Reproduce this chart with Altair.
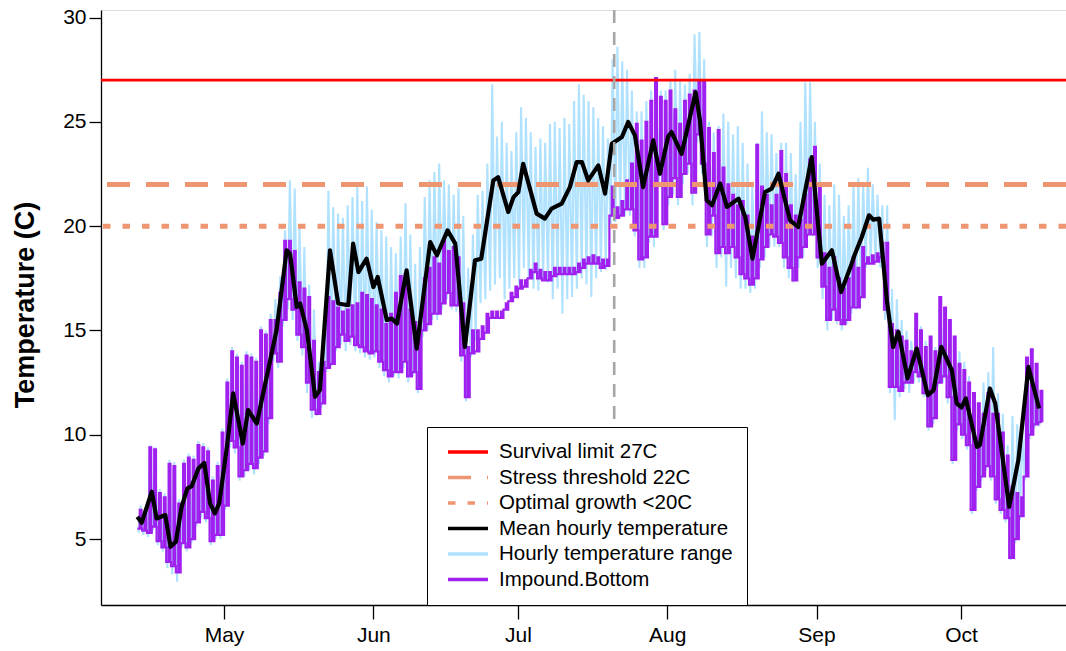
import altair as alt
import pandas as pd

# First logged day; all day offsets below count from here
START = pd.Timestamp("2020-04-13")

SERIES = [
    "Survival limit 27C",
    "Stress threshold 22C",
    "Optimal growth <20C",
    "Mean hourly temperature",
    "Hourly temperature range",
    "Impound.Bottom",
]
COLORS = ["#FF0000", "#EE9572", "#EE9572", "#000000", "#B0E2FF", "#A020F0"]
DASHES = [[1, 0], [23, 16], [7.5, 12], [1, 0], [1, 0], [1, 0]]

threshold_values = [27, 22, 20]
threshold_names = SERIES[:3]

# Daily minimum / maximum of the hourly logger (one value per day from 13 Apr)
hourly_lo = [
    5.3, 5.2, 5.1, 5.4, 4.7, 4.4, 3.6, 3.3, 2.95, 4.6,
    4.4, 4.8, 5.6, 6.0, 5.8, 4.7, 5.0, 5.0, 6.4, 9.4,
    9.1, 7.8, 8.0, 8.3, 8.1, 8.6, 9.0, 10.5, 13.5, 13.2,
    15.2, 16.0, 15.5, 14.5, 13.8, 12.0, 10.8, 10.9, 11.3, 13.0,
    13.3, 14.0, 14.3, 14.0, 14.3, 14.0, 13.9, 13.7, 13.6, 13.7,
    13.2, 12.8, 12.5, 12.8, 12.7, 13.2, 12.5, 12.8, 12.0, 14.7,
    15.0, 15.5, 15.5, 16.0, 16.5, 16.0, 15.9, 13.5, 11.6, 13.7,
    14.5, 16.3, 16.5, 16.9, 17.2, 17.5, 16.5, 17.0, 17.5, 17.2,
    18.0, 17.5, 17.0, 16.9, 17.5, 17.3, 16.5, 17.0, 15.8, 16.5,
    16.6, 17.0, 17.5, 17.2, 16.6, 17.5, 17.8, 17.9, 20.0, 20.2,
    20.4, 20.5, 20.5, 19.5, 18.0, 18.0, 19.2, 19.0, 22.0, 19.8,
    21.0, 21.5, 21.0, 22.0, 22.5, 21.0, 24.0, 22.5, 19.0, 19.5,
    18.0, 18.5, 17.1, 18.0, 17.5, 17.0, 17.0, 16.8, 17.0, 18.0,
    18.5, 19.0, 19.0, 19.0, 18.0, 17.5, 17.3, 18.0, 18.5, 19.5,
    19.5, 18.0, 16.5, 15.0, 15.5, 15.3, 15.0, 15.3, 15.8, 16.0,
    16.5, 18.0, 18.2, 18.3, 18.0, 15.5, 12.0, 10.7, 11.8, 12.2,
    12.0, 12.5, 12.5, 11.8, 10.2, 10.5, 12.3, 12.5, 11.5, 8.6,
    10.2, 9.8, 9.3, 6.2, 7.3, 7.8, 8.3, 7.8, 6.7, 6.2,
    5.8, 4.0, 4.8, 5.9, 7.8, 9.8, 10.3, 10.4,
]
hourly_hi = [
    6.6, 6.5, 9.5, 9.4, 7.4, 7.2, 8.8, 8.7, 6.9, 8.8,
    9.1, 9.0, 9.7, 9.6, 9.4, 8.0, 8.7, 10.3, 12.7, 14.2,
    13.9, 13.5, 14.0, 13.9, 13.7, 15.2, 15.0, 15.8, 16.5, 17.6,
    19.8, 22.2, 21.8, 20.0, 19.0, 17.2, 16.0, 13.5, 15.0, 21.7,
    20.9, 20.6, 20.4, 21.0, 21.4, 21.9, 21.2, 21.9, 20.8, 20.2,
    19.8, 19.5, 19.0, 18.7, 19.5, 21.1, 19.6, 18.2, 19.0, 21.4,
    22.2, 22.6, 23.0, 22.2, 22.0, 21.5, 21.8, 20.5, 18.0, 19.6,
    21.5, 21.7, 23.0, 26.8, 24.3, 25.0, 24.0, 23.6, 24.5, 25.7,
    25.2, 24.5, 23.8, 24.2, 24.0, 24.9, 25.0, 24.7, 25.2, 24.9,
    26.0, 26.8, 26.3, 26.0, 25.7, 25.2, 24.8, 24.2, 28.0, 28.6,
    27.9, 27.5, 26.5, 25.5, 25.5, 26.0, 26.5, 27.1, 26.5, 26.5,
    27.0, 27.5, 27.0, 26.8, 27.3, 29.2, 29.3, 28.0, 25.0, 24.5,
    24.8, 25.4, 25.0, 24.4, 24.8, 24.0, 23.0, 22.0, 24.0, 25.5,
    24.5, 24.4, 23.5, 24.0, 24.0, 23.5, 22.5, 25.0, 26.9, 26.9,
    25.0, 23.0, 21.5, 21.0, 22.0, 21.5, 20.5, 21.0, 22.0, 22.3,
    22.0, 22.8, 22.0, 21.5, 21.0, 21.0, 17.0, 16.5, 15.5, 15.0,
    14.5, 15.8, 15.2, 14.5, 14.7, 14.2, 16.6, 16.1, 15.5, 14.7,
    14.0, 13.5, 12.8, 12.0, 11.5, 12.5, 13.0, 14.2, 12.0, 11.0,
    9.5, 10.9, 10.5, 10.1, 13.7, 14.1, 13.4, 12.1,
]

# Daily minimum / maximum at the impoundment bottom sensor
bottom_lo = [
    5.5, 5.4, 5.3, 5.6, 4.9, 4.6, 3.9, 3.7, 3.4, 4.8,
    4.6, 5.0, 5.8, 6.3, 6.0, 4.9, 5.2, 5.2, 6.6, 9.7,
    9.4, 8.0, 8.3, 8.6, 8.4, 8.9, 9.2, 10.8, 13.9, 13.5,
    15.5, 16.5, 16.0, 14.8, 14.2, 12.5, 11.2, 11.0, 11.5, 13.2,
    13.4, 14.2, 14.8, 14.5, 14.7, 14.3, 14.2, 14.0, 13.9, 14.0,
    13.5, 13.1, 12.8, 13.0, 13.0, 13.5, 12.8, 13.0, 12.2, 15.0,
    15.3, 15.8, 15.8, 16.3, 16.8, 16.2, 16.2, 13.8, 11.8, 13.9,
    14.0, 14.6, 14.9, 15.6, 15.6, 15.6, 16.0, 16.4, 16.6, 17.0,
    17.1, 17.5, 17.8, 17.5, 17.4, 17.4, 17.6, 17.7, 17.7, 17.7,
    17.7, 17.8, 18.0, 18.2, 18.2, 18.2, 18.0, 18.1, 20.5, 20.4,
    20.5, 20.8, 20.8, 19.8, 18.4, 18.5, 19.5, 19.5, 22.7, 20.1,
    21.4, 22.3, 21.4, 22.5, 23.0, 21.6, 24.4, 23.0, 19.6, 20.5,
    18.7, 19.0, 18.7, 19.0, 18.5, 17.7, 17.5, 17.2, 17.5, 18.4,
    19.0, 19.6, 19.5, 19.2, 18.5, 18.0, 17.4, 18.5, 19.0, 19.6,
    19.6, 18.5, 17.1, 15.5, 16.0, 15.5, 15.3, 15.5, 16.1, 16.1,
    16.6, 18.2, 18.2, 18.3, 18.5, 16.0, 12.3, 12.3, 12.1, 12.5,
    12.5, 13.0, 12.8, 12.0, 10.4, 10.8, 12.5, 12.8, 11.8, 8.8,
    10.5, 10.0, 9.5, 6.4, 7.5, 8.0, 8.5, 8.0, 6.9, 6.4,
    6.0, 4.1, 5.0, 6.1, 8.0, 10.0, 10.5, 10.6,
]
bottom_hi = [
    6.4, 6.3, 9.4, 9.3, 7.2, 7.0, 8.6, 8.5, 6.7, 8.6,
    8.9, 8.8, 9.5, 9.4, 9.2, 7.8, 8.5, 10.1, 12.5, 14.0,
    13.7, 13.3, 13.8, 13.7, 13.5, 15.0, 14.8, 15.5, 15.5, 16.8,
    19.3, 19.3, 18.8, 17.3, 17.0, 16.6, 14.5, 13.0, 13.5, 16.6,
    16.4, 16.1, 15.9, 16.0, 16.2, 16.3, 16.8, 16.7, 16.5, 16.2,
    16.0, 15.3, 15.8, 16.8, 17.6, 17.7, 16.0, 15.4, 15.2, 17.5,
    18.0, 18.5, 18.2, 19.4, 18.8, 19.0, 18.5, 16.3, 14.2, 15.0,
    15.0, 15.2, 15.8, 15.9, 15.9, 15.9, 16.3, 16.8, 17.1, 17.4,
    17.4, 17.9, 18.2, 17.9, 17.8, 17.8, 18.0, 18.0, 18.0, 18.0,
    18.0, 18.2, 18.4, 18.5, 18.6, 18.5, 18.4, 18.4, 21.9, 20.9,
    21.2, 22.2, 23.0, 24.9, 24.1, 25.0, 26.0, 27.1, 26.2, 26.0,
    26.5, 25.6, 24.9, 26.0, 26.3, 26.5, 27.0, 27.0, 24.7, 23.5,
    24.6, 22.8, 22.0, 21.5, 21.0, 21.2, 20.5, 19.5, 23.9, 21.9,
    21.5, 21.0, 21.5, 23.6, 22.5, 21.0, 20.5, 20.3, 21.5, 23.2,
    23.8, 22.0, 18.7, 18.0, 18.5, 17.5, 17.0, 17.5, 18.5, 18.0,
    19.0, 18.5, 18.6, 18.7, 19.2, 19.2, 15.3, 15.0, 14.7, 14.5,
    14.0, 15.8, 15.0, 14.2, 14.7, 14.0, 16.6, 16.1, 15.5, 14.7,
    13.4, 13.1, 12.5, 12.0, 11.5, 11.0, 12.0, 11.0, 11.0, 10.1,
    9.0, 7.5, 7.2, 7.0, 13.7, 14.1, 13.4, 12.1,
]

# Mean hourly temperature (day offset from 13 Apr, value)
mean_day = [
    0.0, 0.9, 3.0, 4.0, 5.8, 6.9, 8.0, 9.2, 10.4, 11.3,
    12.7, 13.9, 15.1, 16.1, 17.0, 18.6, 19.9, 21.9, 23.0, 24.8,
    28.9, 31.0, 31.7, 33.1, 33.8, 35.2, 36.9, 37.9, 40.0, 41.7,
    43.8, 44.8, 45.9, 47.6, 49.0, 49.9, 51.8, 52.8, 53.9, 55.9,
    58.0, 60.8, 62.2, 64.4, 66.0, 68.0, 70.1, 71.4, 73.9, 74.9,
    77.0, 78.1, 79.1, 80.1, 82.9, 84.6, 86.0, 88.1, 89.8, 91.2,
    92.3, 93.6, 95.7, 97.1, 98.5, 100.6, 101.9, 103.3, 105.0, 107.1,
    108.5, 110.2, 110.9, 113.0, 115.9, 116.8, 118.2, 119.3, 121.0, 122.4,
    124.8, 126.2, 127.7, 130.3, 131.7, 133.1, 135.5, 137.2, 140.0, 142.1,
    144.2, 146.1, 148.3, 149.0, 150.4, 151.9, 152.8, 154.0, 155.6, 156.9,
    158.0, 159.9, 161.8, 164.1, 165.3, 166.9, 169.1, 170.1, 171.1, 172.0,
    174.3, 174.9, 177.0, 178.1, 181.0, 182.9, 185.0, 187.2,
]
mean_temp = [
    6.07, 5.78, 7.27, 5.99, 6.15, 4.63, 4.87, 6.55, 7.43, 7.54,
    8.39, 8.65, 6.71, 6.23, 6.71, 9.42, 11.98, 9.58, 11.18, 10.54,
    15.01, 18.84, 18.68, 16.13, 16.29, 15.01, 11.82, 12.14, 18.84, 16.29,
    16.21, 19.16, 17.80, 18.44, 17.08, 17.56, 15.49, 15.57, 15.33, 17.88,
    14.13, 19.24, 18.60, 19.80, 19.16, 14.21, 18.36, 18.44, 22.19, 22.35,
    20.68, 21.39, 21.63, 22.99, 20.60, 20.36, 20.84, 21.08, 21.87, 23.07,
    23.07, 22.19, 22.91, 21.56, 23.95, 24.27, 24.99, 24.35, 21.87, 24.11,
    22.51, 24.30, 24.51, 23.47, 26.42, 25.07, 21.24, 21.00, 22.04, 20.92,
    21.32, 20.44, 18.44, 21.63, 21.80, 22.51, 20.28, 19.96, 23.31, 18.20,
    18.84, 16.84, 18.20, 18.68, 19.48, 20.52, 20.31, 20.36, 16.45, 14.21,
    14.93, 12.70, 14.13, 11.90, 12.14, 14.21, 13.09, 11.50, 11.31, 11.74,
    9.42, 9.50, 12.22, 11.50, 6.55, 8.78, 13.25, 11.26,
]

event_date = "2020-07-21"
month_starts = [5, 6, 7, 8, 9, 10]

# ---- tables -------------------------------------------------------------
def at(day, hour=0.0):
    return START + pd.Timedelta(days=day) + pd.Timedelta(hours=hour)

# hourly range: daily low in the early morning, high in the afternoon
range_rows = []
for d, (lo, hi) in enumerate(zip(hourly_lo, hourly_hi)):
    range_rows.append({"time": at(d, 6), "temp": lo, "series": SERIES[4]})
    range_rows.append({"time": at(d, 16), "temp": hi, "series": SERIES[4]})
range_df = pd.DataFrame(range_rows)

# bottom sensor as a stepped trace: low overnight, a short daytime high, low again
bottom_rows = []
for d, (lo, hi) in enumerate(zip(bottom_lo, bottom_hi)):
    bottom_rows.append({"time": at(d, 0), "temp": lo, "series": SERIES[5]})
    bottom_rows.append({"time": at(d, 12), "temp": hi, "series": SERIES[5]})
    bottom_rows.append({"time": at(d, 21), "temp": lo, "series": SERIES[5]})
bottom_df = pd.DataFrame(bottom_rows)

mean_df = pd.DataFrame({
    "time": [at(d) for d in mean_day],
    "temp": mean_temp,
    "series": SERIES[3],
})
thr_df = pd.DataFrame({"temp": threshold_values, "series": threshold_names})
event_df = pd.DataFrame({"time": [pd.Timestamp(event_date)]})

# ---- scales, axes, legend ----------------------------------------------
FONT = "Liberation Sans"
PLOT_W, PLOT_H = 965, 595

x_scale = alt.Scale(domain=[alt.DateTime(year=2020, month=4, date=5, hours=11),
                            alt.DateTime(year=2020, month=10, date=22, hours=19)])
y_scale = alt.Scale(domain=[1.84, 30.36], nice=False, zero=False)

x_axis = alt.Axis(
    values=[alt.DateTime(year=2020, month=m, date=1) for m in month_starts],
    format="%b", title=None, grid=False, tickSize=14, labelPadding=5,
    labelFontSize=21, labelFont=FONT, labelColor="black",
    domainColor="black", tickColor="black", domainWidth=1.3, tickWidth=1.3,
)
y_axis = alt.Axis(
    values=[5, 10, 15, 20, 25, 30], grid=False, tickSize=12, labelPadding=3,
    labelFontSize=21, labelFont=FONT, labelColor="black",
    domainColor="black", tickColor="black", domainWidth=1.3, tickWidth=1.3,
    title="Temperature (C)", titleFontSize=27, titleFontWeight="bold",
    titleFont=FONT, titleColor="black", titleAngle=270, titleX=-76,
    titleY=PLOT_H / 2 - 3, titleAlign="center", titleBaseline="middle",
)

legend = alt.Legend(
    title=None, orient="none", legendX=326, legendY=417, direction="vertical",
    fillColor="white", strokeColor="black", padding=14, cornerRadius=0,
    symbolType="stroke", symbolSize=1600, symbolStrokeWidth=3.5,
    symbolOffset=5, labelOffset=9, labelFontSize=20.5, labelFont=FONT,
    labelColor="black", rowPadding=3.5, clipHeight=22, labelLimit=400,
)

x_enc = alt.X("time:T", scale=x_scale, axis=x_axis)
y_enc = alt.Y("temp:Q", scale=y_scale, axis=y_axis)
color_enc = alt.Color("series:N", scale=alt.Scale(domain=SERIES, range=COLORS), legend=legend)
dash_enc = alt.StrokeDash("series:N", scale=alt.Scale(domain=SERIES, range=DASHES), legend=legend)

# ---- layers -------------------------------------------------------------
hourly = alt.Chart(range_df).mark_line(strokeWidth=2.1, clip=True).encode(
    x=x_enc, y=y_enc, color=color_enc)

bottom = alt.Chart(bottom_df).mark_line(
    strokeWidth=2.2, interpolate="step-after", clip=True).encode(
    x=x_enc, y=y_enc, color=color_enc)

survival = alt.Chart(thr_df).transform_filter(alt.datum.temp >= 27).mark_rule(
    strokeWidth=2.6).encode(y=y_enc, color=color_enc, strokeDash=dash_enc)

stress = alt.Chart(thr_df).transform_filter(alt.datum.temp < 27).mark_rule(
    strokeWidth=5).encode(y=y_enc, color=color_enc, strokeDash=dash_enc)

mean_line = alt.Chart(mean_df).mark_line(
    strokeWidth=4.2, strokeJoin="round", clip=True).encode(
    x=x_enc, y=y_enc, color=color_enc)

event = alt.Chart(event_df).mark_rule(
    color="#A6A6A6", strokeWidth=2.6, strokeDash=[13, 9]).encode(x=x_enc)

chart = alt.layer(hourly, bottom, survival, stress, mean_line, event).properties(
    width=PLOT_W, height=PLOT_H,
    autosize=alt.AutoSizeParams(type="none"),
    padding={"left": 101, "top": 10, "right": 0, "bottom": 46},
).configure_view(stroke=None).configure(background="white")

chart.save("out.html", embed_options={"renderer": "svg", "actions": False})
